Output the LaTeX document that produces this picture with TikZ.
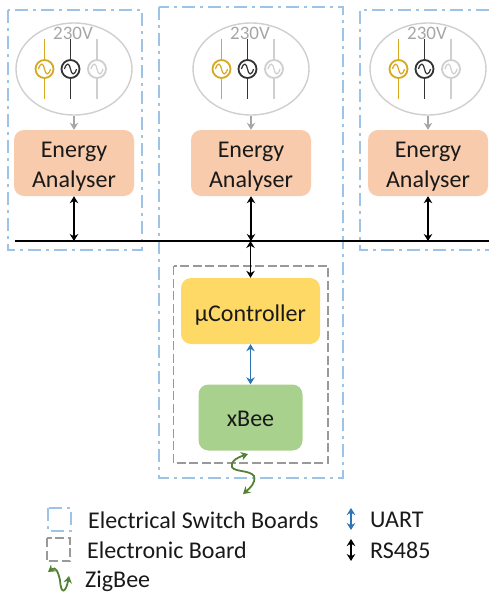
\documentclass[tikz,border=0pt]{standalone}
\usepackage{fontspec}
\setmainfont{Carlito}
\usetikzlibrary{arrows.meta,shapes.geometric}
\definecolor{swblue}{HTML}{9DC3E6}
\definecolor{gphase}{HTML}{D6A91F}
\definecolor{lgray}{HTML}{D0CECE}
\definecolor{ebox}{HTML}{F8CBAD}
\definecolor{ubox}{HTML}{FFD966}
\definecolor{xbox}{HTML}{A9D18E}
\definecolor{uart}{HTML}{2E75B6}
\definecolor{zig}{HTML}{548235}
\tikzset{x=1pt,y=-1pt,
 swb/.style={draw=swblue,line width=2pt,dash pattern=on 13pt off 5pt on 3pt off 5pt},
 ebd/.style={draw=black!40,line width=1.5pt,dash pattern=on 9pt off 3.5pt},
 block/.style={rounded corners=10pt,minimum width=#1,inner sep=0pt,align=center,font=\fontsize{24}{30}\selectfont,text=black!90},
 rs/.style={black,line width=1.6pt,{Stealth[length=7pt,width=8.5pt]}-{Stealth[length=7pt,width=8.5pt]}},
 ua/.style={uart,line width=1.6pt,{Stealth[length=7pt,width=8.5pt]}-{Stealth[length=7pt,width=8.5pt]}},
 zg/.style={zig,line width=1.8pt,{Stealth[length=7pt,width=8.5pt]}-{Stealth[length=7pt,width=8.5pt]}},
 lab/.style={anchor=west,inner sep=0pt,font=\fontsize{24}{28}\selectfont,text=black!90},
 phase/.style={line width=1.5pt},
 src/.style={circle,minimum size=18pt,inner sep=0pt,line width=1.8pt,draw=#1,fill=white}
}
\newcommand{\srcunit}[2]{%
 \node[draw=lgray,line width=1.4pt,ellipse,minimum width=116pt,minimum height=92pt,inner sep=0pt] (#2ell) at (#1,69) {};
 \node[font=\fontsize{19}{20}\selectfont,text=black!35,inner sep=0pt] (#2v) at (#1-1,33) {230V};
 \foreach \dx/\col/\nm in {-29.5/gphase/a,-3.5/black!80/b,23/lgray/c}{
  \draw[phase,draw=\col] (#1+\dx,39) -- (#1+\dx,99);
  \node[src=\col] (#2\nm) at (#1+\dx,69) {};
  \draw[draw=\col,line width=1.2pt] (#1+\dx-6,69) .. controls (#1+\dx-4,62) and (#1+\dx-1,63) .. (#1+\dx,69) .. controls (#1+\dx+1,75) and (#1+\dx+4,76) .. (#1+\dx+6,69);
 }
 \node[block=120pt,minimum height=66pt,fill=ebox] (#2e) at (#1,163) {\rule{0pt}{22pt}Energy\\Analyser};
 \draw[black!35,line width=1.4pt,-{Stealth[length=7pt,width=8.5pt]}] (#2ell) -- (#2e);
 \coordinate (#2b) at (#1,241);
 \draw[rs] (#2e) -- (#2b);
}
\begin{document}
\begin{tikzpicture}
\useasboundingbox (0,0) rectangle (493,592);
\draw[swb] (8,10) rectangle (142,250);
\draw[swb] (159,7) rectangle (343,478);
\draw[swb] (489,10) -- (360,10) -- (360,250) -- (489,250);
\draw[ebd] (173.5,266) rectangle (328,463);
\srcunit{74}{l}
\srcunit{251}{m}
\srcunit{428}{r}
\coordinate (busl) at (15,241);
\coordinate (busr) at (489,241);
\draw[black,line width=1.8pt] (busl) -- (busr);
\node[block=139pt,minimum height=66pt,fill=ubox] (uc) at (250.5,311) {\rule{0pt}{24pt}µController};
\node[block=104pt,minimum height=66pt,fill=xbox] (xb) at (250.5,417.5) {\rule{0pt}{18pt}xBee};
\coordinate (busm) at (250.5,241);
\draw[rs] (busm) -- (uc);
\draw[ua] (uc) -- (xb);
\coordinate (zt) at (248,454);
\coordinate (zb) at (243,494);
\draw[zg] (zt) .. controls (236,458) and (230,462) .. (232,467) .. controls (234,472) and (250,470) .. (254,476) .. controls (256,483) and (250,488) .. (zb);
% legend
\draw[swb,line width=1.5pt] (48,508) rectangle (71,531);
\draw[ebd,line width=1.1pt] (47,538) rectangle (70,561);
\coordinate (zla) at (48,572);
\coordinate (zlb) at (69,576);
\draw[zg] (zla) .. controls (56,566) and (58,572) .. (60,580) .. controls (61,596) and (66,592) .. (zlb);
\node[lab] (t1) at (88,520) {Electrical Switch Boards};
\node[lab] (t2) at (87,550.5) {Electronic Board};
\node[lab] (t3) at (85,581) {ZigBee};
\node[lab] (t4) at (370,520) {UART};
\node[lab] (t5) at (370,550.5) {RS485};
\coordinate (u1) at (351,508);
\coordinate (u2) at (351,530);
\coordinate (r1) at (351,539);
\coordinate (r2) at (351,561);
\draw[ua] (u1) -- (u2);
\draw[rs] (r1) -- (r2);
\end{tikzpicture}
\end{document}
